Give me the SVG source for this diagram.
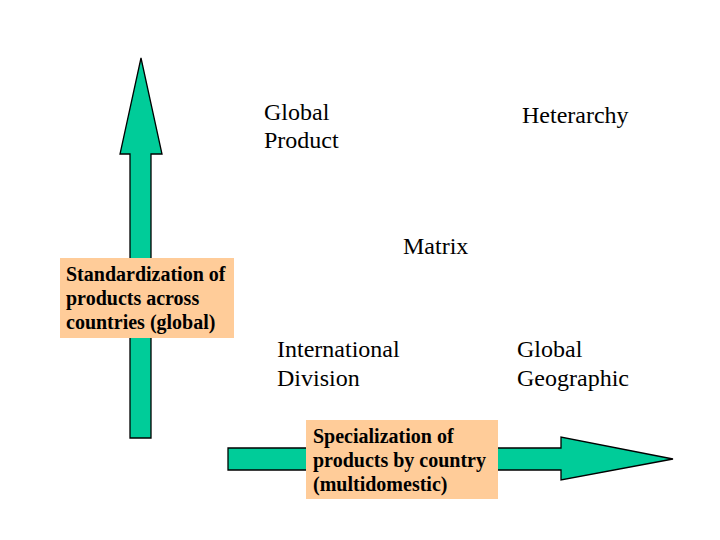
<svg xmlns="http://www.w3.org/2000/svg" width="720" height="540" viewBox="0 0 720 540">
<style>
.arrow{fill:#00CC99;stroke:#000;stroke-width:1.3;stroke-linejoin:miter}
.box{fill:#FFCC99}
.lbl{font-size:20px;font-weight:bold;fill:#000}
.t{font-size:24px;fill:#000}
</style>
<rect width="720" height="540" fill="#fff"/>
<g id="connectors">
<polygon class="arrow" points="141,58 162,154 151,154 151,438 130,438 130,154 120,154"/>
<polygon class="arrow" points="228,448 561,448 561,437 673,459 561,480 561,470 228,470"/>
</g>
<g font-family="Liberation Serif, Times New Roman, Times, serif">
<g id="standardization">
<rect class="box" x="60" y="258" width="174" height="80"/>
<text class="lbl" x="66" y="281">Standardization of</text>
<text class="lbl" x="66" y="305">products across</text>
<text class="lbl" x="66" y="329">countries (global)</text>
</g>
<g id="specialization">
<rect class="box" x="306" y="420" width="192" height="79"/>
<text class="lbl" x="313" y="443">Specialization of</text>
<text class="lbl" x="313" y="467">products by country</text>
<text class="lbl" x="313" y="491">(multidomestic)</text>
</g>
<g id="global-product">
<text class="t" x="264" y="120">Global</text>
<text class="t" x="264" y="148">Product</text>
</g>
<g id="heterarchy">
<text class="t" x="522" y="123">Heterarchy</text>
</g>
<g id="matrix">
<text class="t" x="403" y="254">Matrix</text>
</g>
<g id="international-division">
<text class="t" x="277" y="357">International</text>
<text class="t" x="277" y="386">Division</text>
</g>
<g id="global-geographic">
<text class="t" x="517" y="357">Global</text>
<text class="t" x="517" y="386">Geographic</text>
</g>
</g>
</svg>
